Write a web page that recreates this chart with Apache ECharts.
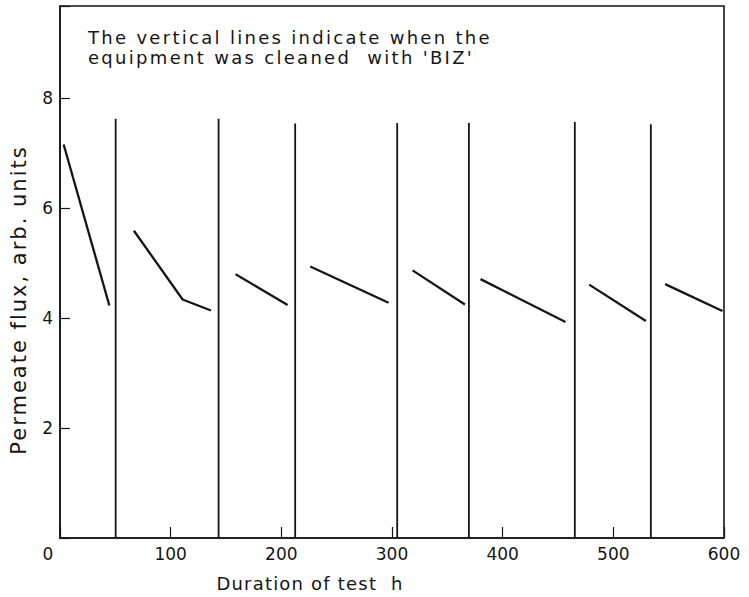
<!DOCTYPE html>
<html><head><meta charset="utf-8">
<script src="https://cdn.jsdelivr.net/npm/echarts@6/dist/echarts.min.js"></script>
<style>html,body{margin:0;padding:0;background:#fff}#c{width:749px;height:597px}</style>
</head><body><div id="c"></div>
<script>
// Tick labels
const xTicks = [0, 100, 200, 300, 400, 500, 600];
const yTicks = [2, 4, 6, 8];
// Cleaning times (vertical lines) and their top heights
const cleanTimes = [50.3, 143.3, 212.5, 304.7, 369.5, 465.2, 533.9];
const cleanTops = [7.63, 7.63, 7.54, 7.55, 7.55, 7.57, 7.53];
// Flux segments between cleanings
const seg1X = [3.3, 44.6];           const seg1Y = [7.16, 4.23];
const seg2X = [66.8, 110.8, 136.4];  const seg2Y = [5.59, 4.34, 4.14];
const seg3X = [158.7, 205.7];        const seg3Y = [4.80, 4.24];
const seg4X = [226.1, 296.9];        const seg4Y = [4.94, 4.28];
const seg5X = [318.6, 365.9];        const seg5Y = [4.87, 4.25];
const seg6X = [380.0, 456.8];        const seg6Y = [4.71, 3.93];
const seg7X = [478.2, 529.4];        const seg7Y = [4.61, 3.95];
const seg8X = [546.8, 598.6];        const seg8Y = [4.62, 4.13];

const noteLines = ["The vertical lines indicate when the", "equipment was cleaned  with 'BIZ'"];
const xName = 'Duration of test\u00a0\u00a0h';
const yName = 'Permeate flux, arb. units';

const INK = '#151515';
const FONT = 'DejaVu Sans';

const segs = [[seg1X, seg1Y], [seg2X, seg2Y], [seg3X, seg3Y], [seg4X, seg4Y],
              [seg5X, seg5Y], [seg6X, seg6Y], [seg7X, seg7Y], [seg8X, seg8Y]];

const series = [];
segs.forEach(([xs, ys]) => {
  series.push({
    type: 'line', symbol: 'none', silent: true,
    lineStyle: { color: INK, width: 2.3 },
    data: xs.map((x, i) => [x, ys[i]])
  });
});
cleanTimes.forEach((t, i) => {
  series.push({
    type: 'line', symbol: 'none', silent: true,
    lineStyle: { color: INK, width: 1.8 },
    data: [[t, 0], [t, cleanTops[i]]]
  });
});

const chart = echarts.init(document.getElementById('c'), null, { renderer: 'svg' });
chart.setOption({
  animation: false,
  backgroundColor: '#fff',
  grid: { left: 60, right: 25, top: 6, bottom: 55, show: true, borderColor: INK, borderWidth: 1.6 },
  xAxis: {
    type: 'value', min: xTicks[0], max: xTicks[xTicks.length - 1], interval: 100,
    axisLine: { show: true, lineStyle: { color: INK, width: 1.6 } },
    axisTick: { show: true, inside: true, length: 11, lineStyle: { color: INK, width: 1.2 } },
    splitLine: { show: false },
    axisLabel: {
      margin: 7, color: INK, fontFamily: FONT, fontSize: 17,
      formatter: v => xTicks.includes(v) ? (v === 0 ? '{z|0}' : String(v)) : '',
      rich: { z: { fontFamily: FONT, fontSize: 17, color: INK, padding: [0, 24, 0, 0] } }
    },
    name: xName, nameLocation: 'middle', nameGap: 36,
    nameTextStyle: { color: INK, fontFamily: FONT, fontSize: 18, padding: [0, 164, 0, 0] }
  },
  yAxis: {
    type: 'value', min: 0, max: 9.68, interval: 2,
    axisLine: { show: true, lineStyle: { color: INK, width: 1.6 } },
    axisTick: { show: true, inside: true, length: 10, lineStyle: { color: INK, width: 1.2 } },
    splitLine: { show: false },
    axisLabel: {
      margin: 7, color: INK, fontFamily: FONT, fontSize: 17,
      formatter: v => yTicks.includes(v) ? String(v) : ''
    },
    name: yName, nameLocation: 'middle', nameGap: 31, nameRotate: 90,
    nameTextStyle: { color: INK, fontFamily: FONT, fontSize: 21, padding: [0, 56, 0, 0] }
  },
  graphic: [{
    type: 'text', x: 88, y: 28, silent: true,
    style: { text: noteLines[0], fill: INK, font: '18px "DejaVu Sans"', verticalAlign: 'top', align: 'left' }
  }, {
    type: 'text', x: 88, y: 48, silent: true,
    style: { text: noteLines[1], fill: INK, font: '18px "DejaVu Sans"', verticalAlign: 'top', align: 'left' }
  }],
  series: series
});

function spaceLetters() {
  document.querySelectorAll('#c svg text').forEach(t => {
    const s = t.textContent;
    let ls = 0;
    if (noteLines.includes(s)) ls = 2.3;
    else if (s === yName) ls = 2;
    else if (s === xName) ls = 1.2;
    t.style.letterSpacing = ls + 'px';
  });
}
chart.on('finished', spaceLetters);
spaceLetters();
</script>
</body></html>
